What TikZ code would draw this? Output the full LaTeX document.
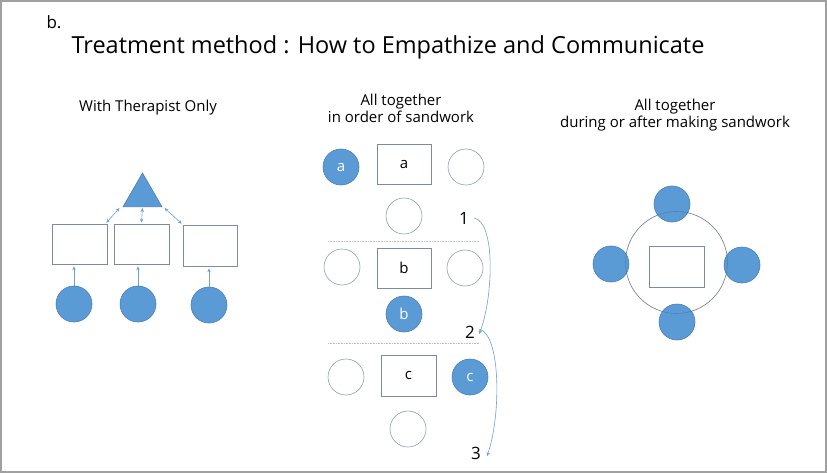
\documentclass[tikz,border=0pt]{standalone}
\usepackage{fontspec}
\setmainfont{Open Sans}
\usetikzlibrary{shapes.geometric,arrows.meta}
\definecolor{fillblue}{HTML}{5B9BD5}
\definecolor{edgeblue}{HTML}{4A7DB5}
\definecolor{boxline}{HTML}{7A8CA5}
\definecolor{thinline}{HTML}{8E9DB3}
\definecolor{frame}{HTML}{A0A0A0}
\definecolor{arrowblue}{HTML}{6FA0D0}
\tikzset{
  person/.style={circle,minimum size=36pt,inner sep=0pt,fill=fillblue,draw=edgeblue,line width=0.6pt,text=white,font=\fontsize{15}{17}\selectfont},
  emptyp/.style={circle,minimum size=36pt,inner sep=0pt,draw=thinline,line width=0.6pt},
  tray/.style={rectangle,draw=boxline,line width=0.7pt,inner sep=0pt,font=\fontsize{15}{17}\selectfont},
  conn/.style={arrowblue,line width=0.6pt},
  tip/.style={-{Stealth[length=4pt,width=3.5pt]}},
  dtip/.style={{Stealth[length=4pt,width=3.5pt]}-{Stealth[length=4pt,width=3.5pt]}},
  sep/.style={draw=frame!70,line width=0.6pt,densely dotted},
  lab/.style={font=\fontsize{15}{17.5}\selectfont,align=center,inner sep=0pt},
  num/.style={font=\fontsize{17}{19}\selectfont,inner sep=0pt}
}
\begin{document}
\begin{tikzpicture}[x=1pt,y=-1pt]
\useasboundingbox (0,0) rectangle (827,473);
\draw[frame,line width=2pt] (1,1) rectangle (826,472);
% titles
\node[font=\fontsize{17}{19}\selectfont,inner sep=0pt] (blab) at (54,22) {b.};
\node[font=\fontsize{23.5}{27}\selectfont,inner sep=0pt] (title) at (388,47) {Treatment method : How to Empathize and Communicate};
\node[lab] (h1) at (148,108) {With Therapist Only};
\node[lab] (h2) at (401,108.5) {All together\\in order of sandwork};
\node[lab] (h3) at (675,115) {All together\\during or after making sandwork};
% left panel
\node[regular polygon,regular polygon sides=3,minimum size=45pt,inner sep=0pt,fill=fillblue,draw=edgeblue,line width=0.6pt] (tri) at (142.5,195.5) {};
\node[tray,minimum width=55pt,minimum height=40pt] (b1) at (79.5,244) {};
\node[tray,minimum width=55pt,minimum height=40pt] (b2) at (141.5,244) {};
\node[tray,minimum width=54pt,minimum height=41pt] (b3) at (210,245.5) {};
\node[person] (c1) at (74,304) {};
\node[person] (c2) at (138,304) {};
\node[person] (c3) at (209,305) {};
\draw[conn,tip,shorten >=2pt] (c1.north) -- (c1.north |- b1.south);
\draw[conn,tip,shorten >=2pt] (c2.north) -- (c2.north |- b2.south);
\draw[conn,tip,shorten >=2pt] (c3.north) -- (c3.north |- b3.south);
\draw[conn,dtip] ([xshift=-1pt,yshift=1pt]b1.north east) -- ([xshift=-3pt,yshift=-1pt]tri.corner 2);
\draw[conn,dtip] ([yshift=1pt]b2.north) -- ([yshift=-1pt]tri.south);
\draw[conn,dtip] ([xshift=-1pt,yshift=1pt]b3.north west) -- ([xshift=2pt,yshift=-1pt]tri.corner 3);
% middle panel
\node[person] (pa) at (341,167) {a};
\node[tray,minimum width=54pt,minimum height=40pt] (ta) at (404,164) {a};
\node[emptyp] (ea1) at (466,167) {};
\node[emptyp] (ea2) at (404,216) {};
\coordinate (s1l) at (328,241);
\coordinate (s1r) at (480,241);
\draw[sep] (s1l) -- (s1r);
\node[emptyp] (eb1) at (342,267) {};
\node[tray,minimum width=54pt,minimum height=40pt] (tb) at (404,268) {b};
\node[emptyp] (eb2) at (465,268) {};
\node[person] (pb) at (404,314) {b};
\coordinate (s2l) at (328,343);
\coordinate (s2r) at (480,343);
\draw[sep] (s2l) -- (s2r);
\node[emptyp] (ec1) at (346,377) {};
\node[tray,minimum width=55pt,minimum height=41pt] (tc) at (408.5,375.5) {c};
\node[person] (pc) at (470,377) {c};
\node[emptyp] (ec2) at (408,429) {};
\node[num] (n1) at (464,218) {1};
\node[num] (n2) at (470,332) {2};
\node[num] (n3) at (476,453) {3};
\draw[conn,tip] ([xshift=5pt]n1.east) .. controls +(22,4) and +(14,-35) .. ([xshift=4pt,yshift=-2pt]n2.east);
\draw[conn,tip] ([xshift=4pt,yshift=3pt]n2.east) .. controls +(22,5) and +(14,-40) .. ([xshift=6pt,yshift=-3pt]n3.east);
% right panel
\node[emptyp,minimum size=102pt,draw=frame] (ring) at (676.5,262.5) {};
\node[tray,minimum width=55pt,minimum height=41pt] (tr) at (676.5,266.5) {};
\node[person] (rt) at (672,204) {};
\node[person] (rl) at (611,264) {};
\node[person] (rr) at (742,265) {};
\node[person] (rb) at (677,322) {};
\draw[edgeblue!70!black,opacity=0.35,line width=0.6pt] (ring.center) circle (51);
\end{tikzpicture}
\end{document}
